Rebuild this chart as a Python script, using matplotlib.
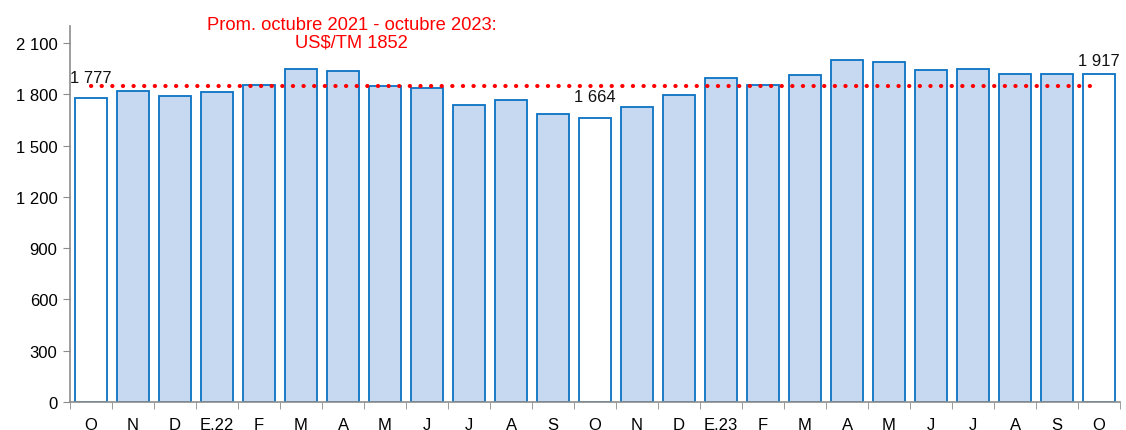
import matplotlib
matplotlib.use('Agg')
import matplotlib.pyplot as plt
import numpy as np

plt.rcParams['font.family'] = ['Liberation Sans', 'DejaVu Sans']

# meses oct-2021 .. oct-2023
months = ['O', 'N', 'D', 'E.22', 'F', 'M', 'A', 'M', 'J', 'J', 'A', 'S',
          'O', 'N', 'D', 'E.23', 'F', 'M', 'A', 'M', 'J', 'J', 'A', 'S', 'O']
prices = [1777, 1819, 1789, 1816, 1856, 1948, 1936, 1848, 1836, 1737, 1766, 1683,
          1664, 1725, 1795, 1894, 1853, 1915, 2000, 1988, 1941, 1947, 1917, 1918, 1917]
highlight = [0, 12, 24]
labels = {0: '1 777', 12: '1 664', 24: '1 917'}
avg_price = 1852
yticks = [0, 300, 600, 900, 1200, 1500, 1800, 2100]

FILL = '#C6D9F1'
EDGE = '#0A72C4'
GRAY = '#8C8C8C'

fig = plt.figure(figsize=(11.26, 4.31), dpi=100)
ax = fig.add_axes([0.0622, 0.065, 0.9325, 0.872])

x = np.arange(len(months))
colors = ['white' if i in highlight else FILL for i in x]
ax.bar(x, prices, width=0.76, color=colors, edgecolor=EDGE, linewidth=1.3, zorder=2)

ax.plot([x[0], x[-1]], [avg_price, avg_price], color='#FF0000', linewidth=3.0,
        linestyle=(0, (0.05, 2.5)), dash_capstyle='round', zorder=3)

# separacion vertical de cada etiqueta (pt)
label_pad = {0: 9.5, 12: 10.0, 24: 4.5}
for i, txt in labels.items():
    ax.annotate(txt, (i, prices[i]), xytext=(0, label_pad[i]), textcoords='offset points',
                ha='center', va='bottom', fontsize=12, color='#111111', zorder=4)

ax.text(6.2, 2160, 'Prom. octubre 2021 - octubre 2023:\nUS$/TM 1852', color='#FF0000',
        ha='center', va='center', fontsize=13.2, linespacing=1.05)

ax.set_xlim(-0.5, len(months) - 0.5)
ax.set_ylim(0, 2200)
ax.set_yticks(yticks)
ax.set_yticklabels([f'{v:,}'.replace(',', ' ') for v in yticks], fontsize=12)
ax.set_xticks(x)
ax.set_xticklabels(months, fontsize=12)
ax.set_xticks(np.arange(-0.5, len(months)), minor=True)
ax.tick_params(axis='x', which='major', length=0, pad=10.5)
ax.tick_params(axis='x', which='minor', length=5, color=GRAY, direction='out')
ax.tick_params(axis='y', length=5, color=GRAY, direction='out', pad=4)

for side in ['top', 'right']:
    ax.spines[side].set_visible(False)
for side in ['left', 'bottom']:
    ax.spines[side].set_color(GRAY)
    ax.spines[side].set_linewidth(1.2)

fig.savefig('out.png', dpi=100)
